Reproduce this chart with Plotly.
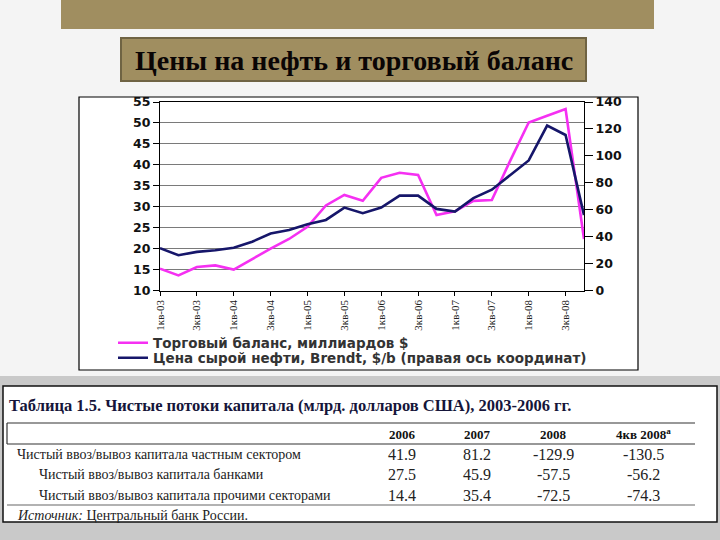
import plotly.graph_objects as go

# ---- data ----
quarters = [f"{q}кв-{y:02d}" for y in range(3, 9) for q in range(1, 5)]
tick_labels = [f"{q}кв-{y:02d}" for y in range(3, 9) for q in (1, 3)]
trade_balance = [15.2, 13.6, 15.6, 16.0, 15.0, 17.6, 20.0, 22.3,
                 25.2, 30.3, 32.8, 31.4, 36.9, 38.1, 37.6, 28.0,
                 28.9, 31.4, 31.6, 41.0, 50.1, 51.7, 53.3, 22.3]
brent = [31.5, 26.2, 28.7, 29.9, 31.7, 36.2, 42.3, 44.9,
         49.2, 52.4, 61.6, 57.4, 61.6, 70.5, 70.5, 60.6,
         58.6, 68.6, 74.9, 86.1, 96.6, 122.5, 115.5, 56.0]
series_names = ["Торговый баланс, миллиардов $",
                "Цена сырой нефти, Brendt, $/b (правая ось координат)"]

slide_title = "Цены на нефть и торговый баланс"
table_title = "Таблица 1.5. Чистые потоки капитала (млрд. долларов США), 2003-2006 гг."
table_cols = ["2006", "2007", "2008", "4кв 2008<sup>а</sup>"]
table_rows = ["Чистый ввоз/вывоз капитала частным сектором",
              "Чистый ввоз/вывоз капитала банками",
              "Чистый ввоз/вывоз капитала прочими секторами"]
table_vals = [["41.9", "81.2", "-129.9", "-130.5"],
              ["27.5", "45.9", "-57.5", "-56.2"],
              ["14.4", "35.4", "-72.5", "-74.3"]]
table_source = "<i>Источник:</i> Центральный банк России."

W, H = 720, 540
def px(x): return x / W
def py(y): return 1 - y / H

legend_font = dict(family="DejaVu Sans", size=13.5, color="#333333", weight="bold")

fig = go.Figure()
fig.add_trace(go.Scatter(x=quarters, y=trade_balance, name=series_names[0],
                         mode="lines", line=dict(color="#f530f2", width=2.6),
                         legend="legend"))
fig.add_trace(go.Scatter(x=quarters, y=brent, name=series_names[1], yaxis="y2",
                         mode="lines", line=dict(color="#16166a", width=2.6),
                         legend="legend2"))

shapes = []
def rect(x0, y0, x1, y1, fill, line=None, lw=0):
    shapes.append(dict(type="rect", xref="paper", yref="paper",
                       x0=px(x0), x1=px(x1), y0=py(y1), y1=py(y0),
                       fillcolor=fill, line=dict(color=line or fill, width=lw),
                       layer="below"))
def hline(x0, x1, y, color, lw=1):
    shapes.append(dict(type="line", xref="paper", yref="paper",
                       x0=px(x0), x1=px(x1), y0=py(y), y1=py(y),
                       line=dict(color=color, width=lw), layer="below"))
def vline(x, y0, y1, color, lw=1):
    shapes.append(dict(type="line", xref="paper", yref="paper",
                       x0=px(x), x1=px(x), y0=py(y0), y1=py(y1),
                       line=dict(color=color, width=lw), layer="below"))

# slide decorations
rect(61, 0, 654, 29, "#a08e60")
rect(121, 38, 586, 81, "#a08e60", "#6f6343", 2)
rect(79, 97, 638, 370, "#ffffff", "#000000", 1.2)
rect(0, 376, 720, 540, "#c9c9c9")
rect(3, 386, 717, 522, "#ffffff", "#111111", 1.5)
# table lines
hline(7, 695, 423, "#333333", 1.2)
hline(7, 695, 444, "#333333", 1.2)
vline(7, 423, 444, "#333333", 1.2)
hline(7, 695, 505, "#999999", 1.5)

ann = []
ann.append(dict(x=px(353.5), y=py(60), xref="paper", yref="paper", text=slide_title,
                showarrow=False, xanchor="center", yanchor="middle",
                font=dict(family="Liberation Serif", size=28, color="#0a0505", weight="bold")))
ann.append(dict(x=px(7), y=py(405), xref="paper", yref="paper", text=table_title,
                showarrow=False, xanchor="left", yanchor="middle",
                font=dict(family="Liberation Serif", size=16.5, color="#15153a", weight="bold")))
col_x = [402, 477, 553, 643]
for cx, c in zip(col_x, table_cols):
    ann.append(dict(x=px(cx), y=py(434), xref="paper", yref="paper", text=c,
                    showarrow=False, xanchor="center", yanchor="middle",
                    font=dict(family="Liberation Serif", size=13, color="#111111", weight="bold")))
row_y = [454, 474, 495]
row_x = [15, 37, 37]
for ry, rx, lab, vals in zip(row_y, row_x, table_rows, table_vals):
    ann.append(dict(x=px(rx), y=py(ry), xref="paper", yref="paper", text=lab,
                    showarrow=False, xanchor="left", yanchor="middle",
                    font=dict(family="Liberation Serif", size=14, color="#222222")))
    for cx, v in zip(col_x, vals):
        ann.append(dict(x=px(cx), y=py(ry), xref="paper", yref="paper", text=v,
                        showarrow=False, xanchor="center", yanchor="middle",
                        font=dict(family="Liberation Serif", size=16, color="#222222")))
ann.append(dict(x=px(15), y=py(515), xref="paper", yref="paper", text=table_source,
                showarrow=False, xanchor="left", yanchor="middle",
                font=dict(family="Liberation Serif", size=14, color="#222222")))

axis_font = dict(family="DejaVu Sans", size=12.5, color="#111111", weight="bold")
fig.update_layout(
    width=W, height=H, margin=dict(l=0, r=0, t=0, b=0, pad=0, autoexpand=False),
    paper_bgcolor="#f4f4f4", plot_bgcolor="#ffffff",
    shapes=shapes, annotations=ann,
    xaxis=dict(domain=[px(160), px(584)], type="category", automargin=False,
               categoryorder="array", categoryarray=quarters,
               tickmode="array", tickvals=tick_labels, ticktext=tick_labels,
               tickangle=-90, ticks="outside", ticklen=4, tickcolor="#000",
               showline=True, linecolor="#000", linewidth=1.2, mirror=True,
               showgrid=False, zeroline=False,
               tickfont=dict(family="Liberation Serif", size=11, color="#222")),
    yaxis=dict(domain=[py(290.5), py(102)], range=[10, 55], dtick=5, automargin=False,
               ticks="outside", ticklen=6, tickcolor="#000",
               showline=True, linecolor="#000", linewidth=1.2,
               showgrid=True, gridcolor="#7a7a7a", gridwidth=1.3, zeroline=False,
               tickfont=axis_font),
    yaxis2=dict(overlaying="y", side="right", range=[0, 140], dtick=20, automargin=False,
                ticks="outside", ticklen=8, tickcolor="#000",
                showline=True, linecolor="#000", linewidth=1.2,
                showgrid=False, zeroline=False, tickfont=axis_font),
    legend=dict(x=px(113), y=py(343), xanchor="left", yanchor="middle",
                bgcolor="rgba(0,0,0,0)", borderwidth=0, font=legend_font),
    legend2=dict(x=px(113), y=py(358), xanchor="left", yanchor="middle",
                 bgcolor="rgba(0,0,0,0)", borderwidth=0, font=legend_font),
    showlegend=True,
)
fig.write_html("out.html", config={"displayModeBar": False},
               post_script="document.body.style.margin='0';document.body.style.padding='0';")
